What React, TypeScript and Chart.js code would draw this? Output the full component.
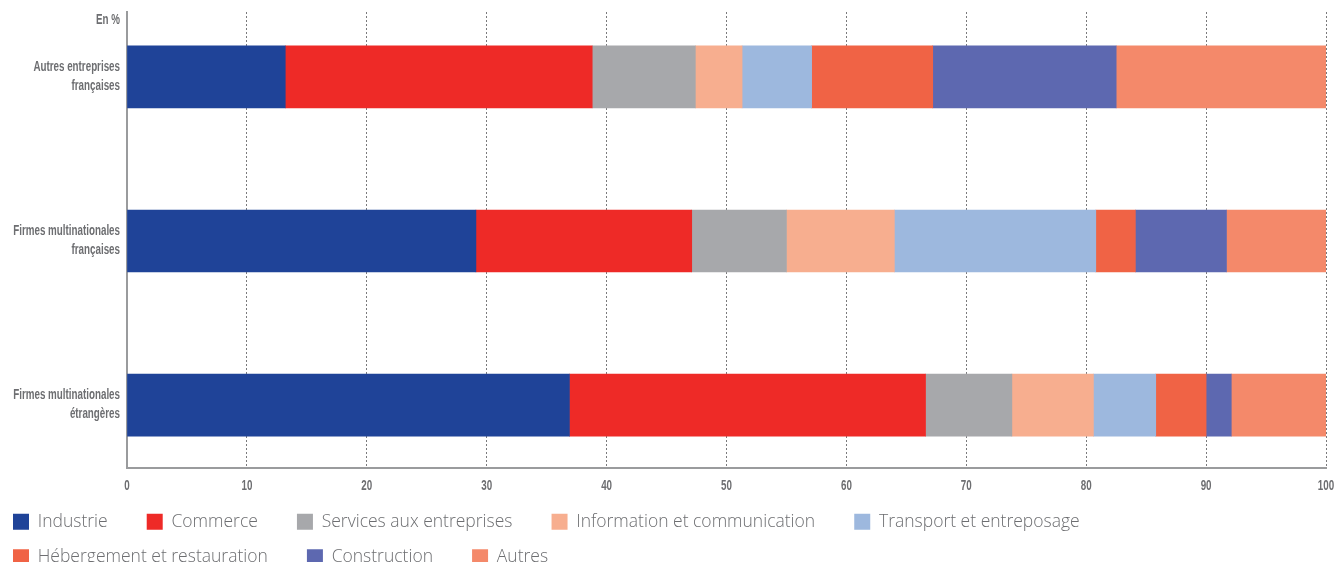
import React, { useEffect, useRef } from 'react';
import { Chart, registerables } from 'chart.js';

Chart.register(...registerables);

// ---- Data ----
const categories: string[][] = [
  ['Autres entreprises', 'françaises'],
  ['Firmes multinationales', 'françaises'],
  ['Firmes multinationales', 'étrangères'],
];
const unitLabel = 'En %';
const seriesNames = [
  'Industrie',
  'Commerce',
  'Services aux entreprises',
  'Information et communication',
  'Transport et entreposage',
  'Hébergement et restauration',
  'Construction',
  'Autres',
];
const industrie = [13.2, 29.1, 36.9];
const commerce = [25.6, 18.0, 29.7];
const services = [8.6, 7.9, 7.2];
const information = [3.9, 9.0, 6.8];
const transport = [5.8, 16.8, 5.2];
const hebergement = [10.1, 3.3, 4.2];
const construction = [15.3, 7.6, 2.1];
const autres = [17.5, 8.3, 7.9];
const xTicks = [0, 10, 20, 30, 40, 50, 60, 70, 80, 90, 100];

const seriesValues = [industrie, commerce, services, information, transport, hebergement, construction, autres];
const seriesColors = ['#1f4398', '#ee2a27', '#a7a8ab', '#f7ae8f', '#9db8de', '#f06345', '#5d68b0', '#f4896a'];

const GRAY = '#6d6e71';
const UNIT_POS = -0.347;
const yTickValues = [UNIT_POS, 0, 1, 2];

function yLabel(v: number): string[] {
  if (v < -0.1) return [unitLabel];
  return categories[Math.round(v)];
}

// condensed labels: Liberation Sans Bold squeezed horizontally
const condensedLabels = {
  id: 'condensedLabels',
  afterDraw(chart: any) {
    const ctx = chart.ctx as CanvasRenderingContext2D;
    const ys = chart.scales.y;
    const xs = chart.scales.x;
    const squeeze = 0.7;
    ctx.save();
    ctx.fillStyle = GRAY;
    ctx.font = "bold 14px 'Liberation Sans', Arial, sans-serif";
    ctx.textBaseline = 'middle';
    yTickValues.forEach((v) => {
      const lines = yLabel(v);
      const py = ys.getPixelForValue(v);
      const lh = 19;
      lines.forEach((line, k) => {
        const y = py + (k - (lines.length - 1) / 2) * lh;
        ctx.save();
        ctx.translate(ys.right - 7, y);
        ctx.scale(squeeze, 1);
        ctx.textAlign = 'right';
        ctx.fillText(line, 0, 0);
        ctx.restore();
      });
    });
    xTicks.forEach((v) => {
      const px = xs.getPixelForValue(v);
      ctx.save();
      ctx.translate(px, xs.top + 18.5);
      ctx.scale(squeeze, 1);
      ctx.textAlign = 'center';
      ctx.fillText(String(v), 0, 0);
      ctx.restore();
    });
    ctx.restore();
  },
};

const shiftLegend = {
  id: 'shiftLegend',
  afterLayout(chart: any) {
    if (chart.legend) {
      chart.legend.left -= 5;
      chart.legend.right -= 5;
    }
  },
};

export default function App() {
  const ref = useRef<HTMLCanvasElement | null>(null);

  useEffect(() => {
    if (!ref.current) return;
    const datasets = seriesNames.map((name, i) => ({
      label: name,
      data: seriesValues[i].map((v, j) => ({ x: v, y: j })),
      backgroundColor: seriesColors[i],
      borderWidth: 0,
      borderSkipped: false,
      barThickness: 62,
    }));

    const chart = new Chart(ref.current, {
      type: 'bar',
      data: { datasets } as any,
      plugins: [shiftLegend, condensedLabels],
      options: {
        indexAxis: 'y',
        animation: false,
        responsive: true,
        maintainAspectRatio: false,
        layout: { padding: { top: 12, right: 11, bottom: 0, left: 0 } },
        plugins: {
          tooltip: { enabled: false },
          legend: {
            position: 'bottom',
            align: 'start',
            labels: {
              boxWidth: 16,
              boxHeight: 16,
              padding: 18,
              color: GRAY,
              font: { family: "'Open Sans', sans-serif", size: 17.5, weight: 300 },
              generateLabels: (c: any) =>
                (Chart.defaults.plugins.legend.labels.generateLabels as any)(c).map((it: any) => ({
                  ...it,
                  text: it.text + '    \u2009',
                })),
            },
          },
        },
        scales: {
          x: {
            type: 'linear',
            min: 0,
            max: 100,
            stacked: true,
            position: 'bottom',
            offset: false,
            z: 1,
            afterBuildTicks: (s: any) => {
              s.ticks = xTicks.map((v) => ({ value: v }));
            },
            afterFit: (s: any) => {
              s.height = 27.5;
            },
            grid: {
              drawTicks: false,
              lineWidth: 1,
              color: (ctx: any) => (ctx.tick && ctx.tick.value === 0 ? 'rgba(0,0,0,0)' : '#7a7a7c'),
            },
            border: { display: true, color: '#9a9b9d', width: 2, dash: [2, 2] },
            ticks: { display: false, autoSkip: false },
          },
          y: {
            type: 'linear',
            reverse: true,
            min: -0.395,
            max: 2.38,
            bounds: 'data',
            offset: false,
            stacked: true,
            afterBuildTicks: (s: any) => {
              s.ticks = yTickValues.map((v) => ({ value: v }));
            },
            afterFit: (s: any) => {
              s.width = 127;
            },
            grid: { display: false, drawTicks: false },
            border: { display: true, color: '#9a9b9d', width: 2 },
            ticks: { display: false, autoSkip: false },
          },
        },
      } as any,
    });
    return () => chart.destroy();
  }, []);

  return (
    <div style={{ position: 'fixed', left: 0, top: 0, width: 1337, height: 576, background: '#fff' }}>
      <canvas ref={ref} />
    </div>
  );
}
